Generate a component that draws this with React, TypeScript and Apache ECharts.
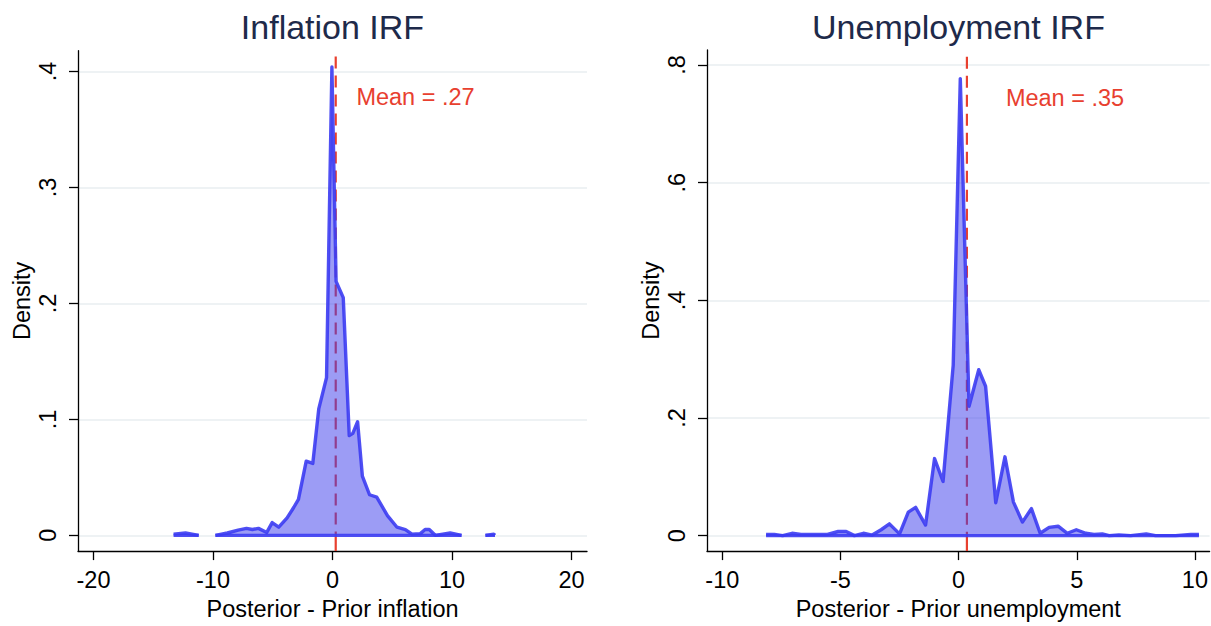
import React, { useEffect, useRef } from "react";
import * as echarts from "echarts";

// ---- data ----
const infX = [-13.3, -12.3, -11.2, -10.5, -9.8, -8.8, -7.9, -7.2, -6.7, -6.2, -5.5, -5.05, -4.5, -3.8, -3.25, -2.85, -2.2, -1.65, -1.15, -0.5, -0.05, 0.3, 0.9, 1.4, 1.7, 2.1, 2.5, 3.1, 3.7, 4.6, 5.4, 6.1, 6.65, 7.35, 7.75, 8.1, 8.6, 9.85, 10.8, 11.8, 12.8, 13.5, 13.6];
const infY = [0.001, 0.002, 0, null, 0, 0.002, 0.0045, 0.006, 0.005, 0.006, 0.0025, 0.011, 0.007, 0.015, 0.024, 0.031, 0.064, 0.062, 0.109, 0.136, 0.404, 0.219, 0.205, 0.086, 0.088, 0.098, 0.051, 0.035, 0.033, 0.017, 0.007, 0.005, 0.001, 0.0015, 0.005, 0.005, 0, 0.002, 0, null, 0, 0.001, 0];

const unX = [-8.15, -7.8, -7.45, -7.05, -6.67, -5.55, -5.1, -4.76, -4.41, -4.03, -3.66, -3.28, -2.93, -2.5, -2.13, -1.82, -1.4, -1.02, -0.66, -0.23, 0.07, 0.44, 0.85, 1.14, 1.57, 1.96, 2.32, 2.7, 3.08, 3.45, 3.83, 4.21, 4.6, 4.98, 5.38, 5.73, 6.08, 6.37, 6.78, 7.28, 7.94, 8.33, 9.18, 9.82, 10.17];
const unY = [0.002, 0.002, 0, 0.004, 0.002, 0.002, 0.007, 0.007, 0, 0.004, 0.001, 0.01, 0.02, 0.003, 0.04, 0.048, 0.018, 0.131, 0.092, 0.29, 0.777, 0.22, 0.282, 0.254, 0.056, 0.134, 0.057, 0.023, 0.046, 0.004, 0.014, 0.016, 0.004, 0.01, 0.004, 0.002, 0.003, 0, 0.001, 0, 0.003, 0, 0, 0.002, 0.002];

const infXTicks = [-20, -10, 0, 10, 20];
const infYTicks = [0, 0.1, 0.2, 0.3, 0.4];
const unXTicks = [-10, -5, 0, 5, 10];
const unYTicks = [0, 0.2, 0.4, 0.6, 0.8];

const infMean = 0.27;
const unMean = 0.35;

const titles = ["Inflation IRF", "Unemployment IRF"];
const xNames = ["Posterior - Prior inflation", "Posterior - Prior unemployment"];
const yName = "Density";
const meanLabels = ["Mean = .27", "Mean = .35"];

// ---- styles / layout ----
const FONT = "'Liberation Sans', Arial, Helvetica, sans-serif";
const BLUE_LINE = "rgba(60,60,242,0.9)";
const BLUE_FILL = "rgb(58,58,236)";
const RED = "#E8402F";
const GRID_COLOR = "#E8EEF1";
const TITLE_COLOR = "#1E2A4A";

const panels = [
  {
    xs: infX, ys: infY, xTicks: infXTicks, yTicks: infYTicks, mean: infMean,
    grid: { left: 78, top: 50.7, width: 509, height: 508.3 },
    xMin: -21.3, xMax: 21.3, yMin: -0.0136, yMax: 0.418, meanTop: 0.413,
    labelPos: [2, 0.378],
  },
  {
    xs: unX, ys: unY, xTicks: unXTicks, yTicks: unYTicks, mean: unMean,
    grid: { left: 707, top: 50, width: 503, height: 509 },
    xMin: -10.65, xMax: 10.62, yMin: -0.0263, yMax: 0.8256, meanTop: 0.814,
    labelPos: [2, 0.744],
  },
];

const fmt = (v: number) => (v === 0 ? "0" : String(v).replace(/^(-?)0\./, "$1."));

function pairs(xs: number[], ys: (number | null)[]) {
  return xs.map((x, i) => [x, ys[i] === null ? "-" : ys[i]]);
}

function baselineSegments(xs: number[], ys: (number | null)[]) {
  const out: any[] = [];
  let start: number | null = null;
  let last: number | null = null;
  ys.forEach((y, i) => {
    if (y === null) {
      if (start !== null) {
        out.push([start, 0], [last, 0], [xs[i], "-"]);
      }
      start = null;
    } else {
      if (start === null) start = xs[i];
      last = xs[i];
    }
  });
  if (start !== null) out.push([start, 0], [last, 0]);
  return out;
}

export default function App() {
  const ref = useRef<HTMLDivElement>(null);
  useEffect(() => {
    if (!ref.current) return;
    const chart = echarts.init(ref.current, null, { renderer: "svg" });
    const grids: any[] = [];
    const xAxes: any[] = [];
    const yAxes: any[] = [];
    const series: any[] = [];
    panels.forEach((p, i) => {
      grids.push({ ...p.grid, containLabel: false });
      xAxes.push({
        type: "value", gridIndex: i, min: p.xMin, max: p.xMax,
        axisLine: { show: true, onZero: false, lineStyle: { color: "#000", width: 1.3 } },
        axisTick: { show: true, customValues: p.xTicks, length: 9, lineStyle: { color: "#000", width: 1.3 } },
        axisLabel: { customValues: p.xTicks, margin: 17, fontSize: 23.5, color: "#000", fontFamily: FONT, formatter: (v: number) => fmt(v) },
        splitLine: { show: false },
        name: xNames[i], nameLocation: "middle", nameGap: 41,
        nameTextStyle: { fontSize: 23.5, color: "#000", fontFamily: FONT },
      });
      yAxes.push({
        type: "value", gridIndex: i, min: p.yMin, max: p.yMax,
        axisLine: { show: true, onZero: false, lineStyle: { color: "#000", width: 1.3 } },
        axisTick: { show: true, customValues: p.yTicks, length: 9, lineStyle: { color: "#000", width: 1.3 } },
        axisLabel: { customValues: p.yTicks, rotate: 90, margin: 18, fontSize: 23.5, color: "#000", fontFamily: FONT, formatter: (v: number) => fmt(v) },
        splitLine: { show: false },
        name: yName, nameLocation: "middle", nameGap: 44,
        nameTextStyle: { fontSize: 23.5, color: "#000", fontFamily: FONT },
      });
      series.push({
        type: "line", xAxisIndex: i, yAxisIndex: i, data: [], z: 0, silent: true,
        markLine: {
          silent: true, symbol: ["none", "none"], label: { show: false }, z: 0,
          lineStyle: { color: GRID_COLOR, width: 1.6, type: "solid" },
          emphasis: { disabled: true },
          data: p.yTicks.map((v) => ({ yAxis: v })),
        },
      });
      series.push({
        type: "line", xAxisIndex: i, yAxisIndex: i, z: 1, silent: true, symbol: "none",
        data: [[p.mean, p.yMin], [p.mean, 0]],
        lineStyle: { color: RED, width: 2.2 },
      });
      series.push({
        type: "line", xAxisIndex: i, yAxisIndex: i, z: 1, silent: true, symbol: "none",
        data: [[p.mean, p.meanTop], [p.mean, 0]],
        lineStyle: { color: RED, width: 2.2, type: [12, 7] },
      });
      series.push({
        type: "line", xAxisIndex: i, yAxisIndex: i, z: 3, silent: true, symbol: "none",
        connectNulls: false,
        data: pairs(p.xs, p.ys),
        lineStyle: { color: BLUE_LINE, width: 3.4, join: "round" },
        areaStyle: { color: BLUE_FILL, opacity: 0.5, origin: 0 },
      });
      series.push({
        type: "line", xAxisIndex: i, yAxisIndex: i, z: 3, silent: true, symbol: "none",
        connectNulls: false,
        data: baselineSegments(p.xs, p.ys),
        lineStyle: { color: BLUE_LINE, width: 3.4 },
      });
    });
    chart.setOption({
      animation: false,
      backgroundColor: "#fff",
      grid: grids, xAxis: xAxes, yAxis: yAxes, series,
    });
    const graphics: any[] = [];
    panels.forEach((p, i) => {
      graphics.push({
        type: "text", x: p.grid.left + p.grid.width / 2, y: 27,
        style: { text: titles[i], font: `34px ${FONT}`, fill: TITLE_COLOR, align: "center", verticalAlign: "middle" },
      });
      const pt = chart.convertToPixel({ gridIndex: i } as any, p.labelPos) as number[];
      graphics.push({
        type: "text", x: pt[0], y: pt[1],
        style: { text: meanLabels[i], font: `23.5px ${FONT}`, fill: RED, align: "left", verticalAlign: "middle" },
      });
    });
    chart.setOption({ graphic: graphics });
    return () => chart.dispose();
  }, []);
  return <div ref={ref} style={{ position: "absolute", left: 0, top: 0, width: 1211, height: 626 }} />;
}
